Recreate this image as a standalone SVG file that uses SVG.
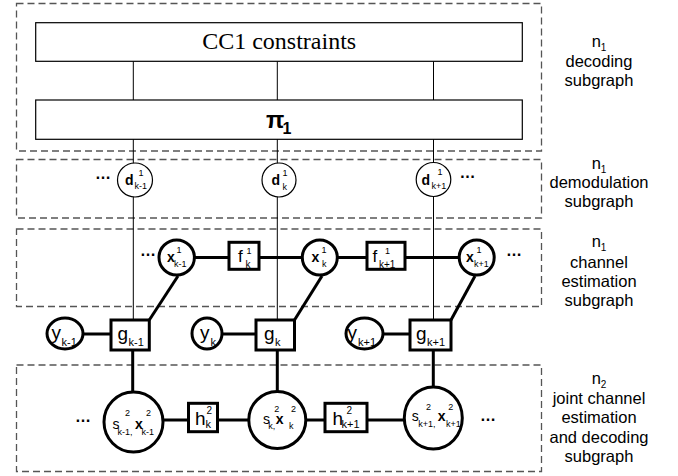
<svg xmlns="http://www.w3.org/2000/svg" width="678" height="476" viewBox="0 0 678 476">
<style>
.dash{fill:none;stroke:#555;stroke-width:1.3;stroke-dasharray:7 4}
.thin{fill:none;stroke:#000;stroke-width:1}
.thick{fill:none;stroke:#000;stroke-width:3}
.nthin{fill:#fff;stroke:#000;stroke-width:1.2}
.nthick{fill:#fff;stroke:#000;stroke-width:3}
.b{font-weight:bold}
.lab{font-size:16.5px;text-anchor:middle}
.dots{font-size:16px;font-weight:bold;text-anchor:middle}
.s9{font-size:9px}
.s10{font-size:10px}
.s11{font-size:11px}
.m14{font-size:14px}
.m17{font-size:17px}
.m19{font-size:19px}
</style>
<rect width="678" height="476" fill="#fff"/>
<g id="subgraphs">
<rect class="dash" x="16.5" y="3.5" width="525" height="147.5"/>
<rect class="dash" x="16.5" y="159.5" width="525" height="58.5"/>
<rect class="dash" x="16.5" y="229" width="525" height="77.5"/>
<rect class="dash" x="16.5" y="365" width="525" height="106.5"/>
</g>
<g id="connectors">
<line class="thin" x1="133.3" y1="61" x2="133.3" y2="320"/>
<line class="thin" x1="277.3" y1="61" x2="277.3" y2="320"/>
<line class="thin" x1="433.5" y1="61" x2="433.5" y2="320"/>
<line class="thick" x1="176.7" y1="257.5" x2="476.7" y2="257.5"/>
<line class="thick" x1="178" y1="276" x2="149.3" y2="320"/>
<line class="thick" x1="322" y1="276" x2="294.5" y2="320"/>
<line class="thick" x1="475" y1="276" x2="451" y2="320"/>
<line class="thick" x1="65" y1="334" x2="111" y2="334"/>
<line class="thick" x1="207" y1="334" x2="256" y2="334"/>
<line class="thick" x1="364.5" y1="334" x2="410" y2="334"/>
<line class="thick" x1="132.7" y1="350" x2="132.7" y2="395"/>
<line class="thick" x1="277.3" y1="350" x2="277.3" y2="395"/>
<line class="thick" x1="433.3" y1="350" x2="433.3" y2="390"/>
<line class="thick" x1="133.5" y1="420" x2="433.3" y2="420"/>
</g>
<g id="cc1">
<rect class="nthin" x="35.7" y="22.7" width="486.6" height="38.6"/>
<text font-family="Liberation Serif, Times New Roman, serif" x="279.2" y="49" font-size="24" text-anchor="middle">CC1 constraints</text>
</g>
<g font-family="Liberation Sans, Arial, sans-serif" fill="#000">
<g id="pi1">
<rect class="nthin" x="35.7" y="100" width="486.6" height="39.3"/>
<text class="b" x="266" y="128" font-size="24">π</text>
<text class="b" x="282.5" y="133.5" font-size="16">1</text>
</g>
<g id="d_km1">
<ellipse class="nthin" cx="135" cy="180" rx="17.5" ry="17"/>
<text class="b m14" x="125" y="185">d</text><text class="s9" x="138.5" y="175.5">1</text><text class="s9" x="134.5" y="189">k-1</text>
</g>
<g id="d_k">
<ellipse class="nthin" cx="279" cy="180" rx="17" ry="17"/>
<text class="b m14" x="271.5" y="185">d</text><text class="s9" x="282.5" y="175.5">1</text><text class="s9" x="282.5" y="190">k</text>
</g>
<g id="d_kp1">
<ellipse class="nthin" cx="433.5" cy="179.5" rx="17.3" ry="17"/>
<text class="b m14" x="421.5" y="184.5">d</text><text class="s9" x="437.5" y="175">1</text><text class="s9" x="431.5" y="189">k+1</text>
</g>
<g id="x_km1">
<ellipse class="nthick" cx="176.7" cy="257.5" rx="17.7" ry="17.5"/>
<text class="b m14" x="167" y="262">x</text><text class="s9" x="176.5" y="253">1</text><text class="s9" x="174" y="267">k-1</text>
</g>
<g id="f_k">
<rect class="nthick" x="229" y="242.3" width="30" height="27"/>
<text class="m17" x="238" y="262">f</text><text class="s9" x="246.5" y="253.5">1</text><text class="s10" x="245.5" y="268">k</text>
</g>
<g id="x_k">
<ellipse class="nthick" cx="319.8" cy="257.5" rx="17.5" ry="17.5"/>
<text class="b m14" x="311.5" y="262">x</text><text class="s9" x="321.5" y="253">1</text><text class="s9" x="322" y="267">k</text>
</g>
<g id="f_kp1">
<rect class="nthick" x="367" y="242.3" width="38" height="27"/>
<text class="m17" x="372.5" y="262">f</text><text class="s9" x="385" y="253.5">1</text><text class="s10" x="379" y="268">k+1</text>
</g>
<g id="x_kp1">
<ellipse class="nthick" cx="476.7" cy="257.5" rx="17.5" ry="17.5"/>
<text class="b m14" x="466" y="262">x</text><text class="s9" x="476.5" y="253">1</text><text class="s9" x="474" y="267">k+1</text>
</g>
<g id="y_km1">
<ellipse class="nthick" cx="65" cy="333.5" rx="18" ry="15.5"/>
<text class="m19" x="51.5" y="339">y</text><text class="s11" x="61.5" y="346">k-1</text>
</g>
<g id="g_km1">
<rect class="nthick" x="111" y="320" width="38.3" height="30"/>
<text class="m19" x="117.5" y="339.5">g</text><text class="s11" x="128.5" y="346">k-1</text>
</g>
<g id="y_k">
<ellipse class="nthick" cx="207" cy="333.5" rx="15" ry="15.5"/>
<text class="m19" x="200" y="339">y</text><text class="s11" x="210.5" y="346">k</text>
</g>
<g id="g_k">
<rect class="nthick" x="256" y="320" width="38.5" height="30"/>
<text class="m19" x="264" y="339.5">g</text><text class="s11" x="275" y="346">k</text>
</g>
<g id="y_kp1">
<ellipse class="nthick" cx="364.5" cy="333.5" rx="18.5" ry="15.5"/>
<text class="m19" x="347.5" y="339">y</text><text class="s11" x="358" y="346">k+1</text>
</g>
<g id="g_kp1">
<rect class="nthick" x="410" y="320" width="41" height="30"/>
<text class="m19" x="416" y="339.5">g</text><text class="s11" x="427" y="346">k+1</text>
</g>
<g id="s_km1">
<ellipse class="nthick" cx="133.5" cy="422" rx="29.5" ry="30"/>
<text class="m14" x="112.5" y="428.5">s</text><text class="s9" x="125" y="415.5">2</text><text class="s9" x="117.5" y="434.5">k-1,</text>
<text class="b m14" x="135" y="428.5">x</text><text class="s9" x="146" y="415.5">2</text><text class="s9" x="141.5" y="434.5">k-1</text>
</g>
<g id="h_k">
<rect class="nthick" x="188.5" y="403.3" width="29" height="28.4"/>
<text class="m19" x="195" y="425">h</text><text class="s10" x="206.5" y="414">2</text><text class="s11" x="205.5" y="428">k</text>
</g>
<g id="s_k">
<ellipse class="nthick" cx="277.3" cy="420" rx="28.5" ry="28.5"/>
<text class="m14" x="263" y="423.5">s</text><text class="s9" x="274.3" y="412">2</text><text class="s9" x="268.3" y="429">k,</text>
<text class="b m14" x="275.7" y="423.5">x</text><text class="s9" x="291" y="412">2</text><text class="s9" x="289" y="429">k</text>
</g>
<g id="h_kp1">
<rect class="nthick" x="325" y="403.3" width="42" height="28.4"/>
<text class="m19" x="332.5" y="425">h</text><text class="s10" x="346.5" y="414">2</text><text class="s11" x="341.5" y="428">k+1</text>
</g>
<g id="s_kp1">
<ellipse class="nthick" cx="433.3" cy="418" rx="29" ry="31"/>
<text class="m14" x="411.7" y="421">s</text><text class="s9" x="426" y="409.5">2</text><text class="s9" x="418.3" y="426.5">k+1,</text>
<text class="b m14" x="437.7" y="421">x</text><text class="s9" x="448.3" y="409.5">2</text><text class="s9" x="446" y="426.5">k+1</text>
</g>
<g id="ellipses">
<text class="dots" x="103" y="178.5">…</text>
<text class="dots" x="467.5" y="178">…</text>
<text class="dots" x="148" y="255.5">…</text>
<text class="dots" x="514" y="255.5">…</text>
<text class="dots" x="83" y="421.5">…</text>
<text class="dots" x="488" y="421">…</text>
</g>
<g id="labels">
<text class="lab" x="599" y="47">n<tspan font-size="10" dy="4">1</tspan></text>
<text class="lab" x="599" y="66.5">decoding</text>
<text class="lab" x="599" y="86">subgraph</text>
<text class="lab" x="599" y="169">n<tspan font-size="10" dy="4">1</tspan></text>
<text class="lab" x="599" y="188">demodulation</text>
<text class="lab" x="599" y="207">subgraph</text>
<text class="lab" x="599" y="247">n<tspan font-size="10" dy="4">1</tspan></text>
<text class="lab" x="599" y="267.5">channel</text>
<text class="lab" x="599" y="287">estimation</text>
<text class="lab" x="599" y="306">subgraph</text>
<text class="lab" x="599" y="384">n<tspan font-size="10" dy="4">2</tspan></text>
<text class="lab" x="599" y="403.5">joint channel</text>
<text class="lab" x="599" y="423">estimation</text>
<text class="lab" x="599" y="442.5">and decoding</text>
<text class="lab" x="599" y="462">subgraph</text>
</g>
</g>
</svg>
